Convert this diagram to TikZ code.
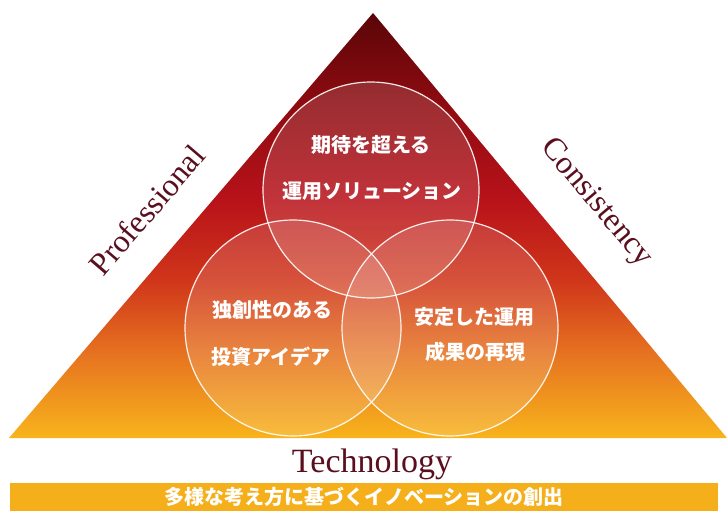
\documentclass[tikz,border=0pt]{standalone}
\usepackage{fontspec}
\setmainfont{Liberation Serif}
\newfontfamily\jp{Noto Sans CJK JP}
\definecolor{c0}{HTML}{5A0508}
\definecolor{c1}{HTML}{8C0B10}
\definecolor{c2}{HTML}{B8121A}
\definecolor{c3}{HTML}{D0361A}
\definecolor{c4}{HTML}{E57020}
\definecolor{c5}{HTML}{F8B41C}
\definecolor{labcol}{HTML}{5A0F1E}
\definecolor{barcol}{HTML}{F5AF1A}
\pgfdeclareverticalshading{trishade}{100bp}{color(0bp)=(c5); color(25bp)=(c5); color(35.3bp)=(c4); color(43.5bp)=(c3); color(53bp)=(c2); color(64.7bp)=(c1); color(75bp)=(c0); color(100bp)=(c0)}
\begin{document}
\begin{tikzpicture}[x=1pt,y=-1pt,
  lab/.style={font=\fontsize{32}{32}\selectfont, text=labcol, inner sep=0pt},
  jptext/.style={font=\jp\bfseries\fontsize{20}{20}\selectfont, text=white, inner sep=0pt},
  venn/.style={circle, minimum size=216pt, draw=white, draw opacity=0.9, line width=1.2pt, fill=white, fill opacity=0.14, inner sep=0pt}]
\useasboundingbox (0,0) rectangle (727,511);
\fill[white] (0,0) rectangle (727,511);
\coordinate (apex) at (373,13);
\coordinate (bl) at (9,438);
\coordinate (br) at (727,438);
\shade[shading=trishade] (apex) -- (br) -- (bl) -- cycle;
\node[venn] (ctop) at (371,190) {};
\node[venn] (cleft) at (293,328) {};
\node[venn] (cright) at (450,328) {};
\node[jptext] (t1) at (371,145) {期待を超える};
\node[jptext] (t2) at (372,191) {運用ソリューション};
\node[jptext] (l1) at (272,310) {独創性のある};
\node[jptext] (l2) at (271,357) {投資アイデア};
\node[jptext] (r1) at (474,317) {安定した運用};
\node[jptext] (r2) at (475,352) {成果の再現};
\node[lab, rotate=49.4] (prof) at (147,210) {Professional};
\node[lab, rotate=-50] (cons) at (596,203) {Consistency};
\node[lab, anchor=base, font=\fontsize{34}{34}\selectfont] (tech) at (372,472) {Technology};
\node[jptext, fill=barcol, minimum width=708pt, minimum height=28pt] (bar) at (364,497) {多様な考え方に基づくイノベーションの創出};
\end{tikzpicture}
\end{document}
